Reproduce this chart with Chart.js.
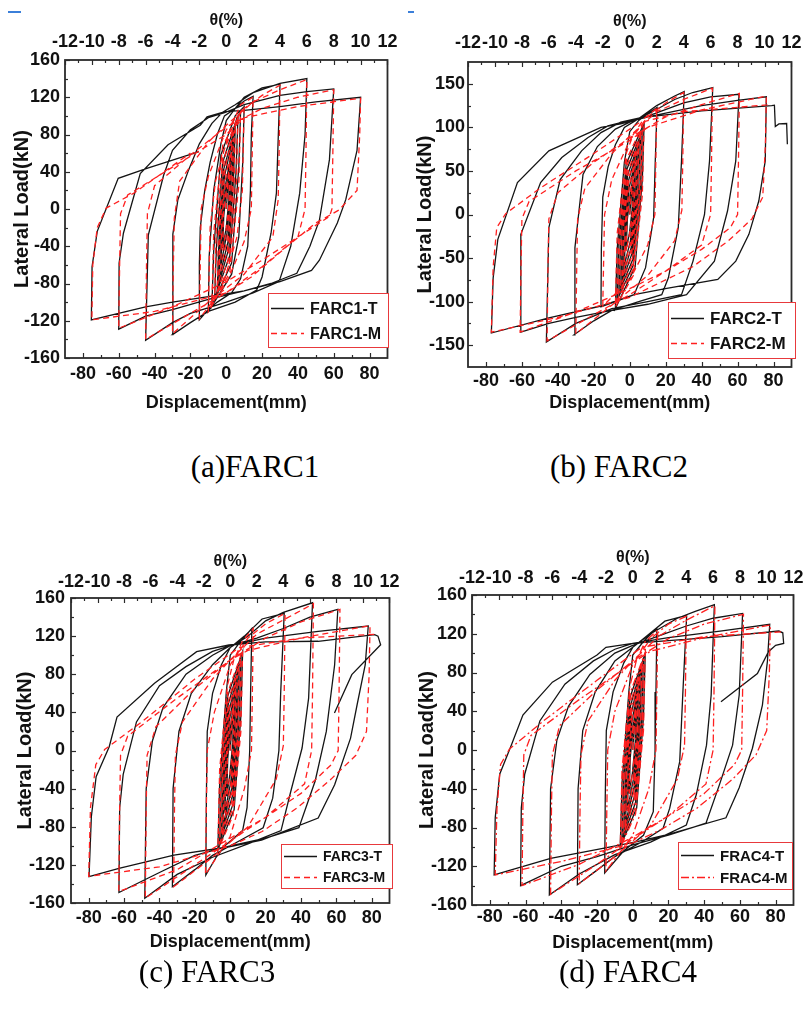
<!DOCTYPE html>
<html>
<head>
<meta charset="utf-8">
<script src="https://cdn.jsdelivr.net/npm/chart.js@4.4.0/dist/chart.umd.min.js"></script>
<style>
  body { margin: 0; background: #fff; width: 810px; height: 1010px; position: relative; overflow: hidden; }
  canvas { position: absolute; }
  .cap { position: absolute; font-family: "Liberation Serif", "Times New Roman", serif; font-size: 31px; line-height: 1;
         transform: translate(-50%, -50%); white-space: nowrap; color: #000; }
  .blue { position: absolute; height: 2px; background: #3b7fd9; }
</style>
</head>
<body>
<div class="blue" style="left:8px;top:11px;width:13px"></div>
<div class="blue" style="left:408px;top:11px;width:6px"></div>
<canvas id="c1" width="405" height="420" style="left:0;top:0"></canvas>
<canvas id="c2" width="405" height="420" style="left:405px;top:0"></canvas>
<canvas id="c3" width="405" height="430" style="left:0;top:530px"></canvas>
<canvas id="c4" width="405" height="430" style="left:405px;top:530px"></canvas>
<div class="cap" style="left:255px;top:466px">(a)FARC1</div>
<div class="cap" style="left:619px;top:466px">(b) FARC2</div>
<div class="cap" style="left:207px;top:971px">(c) FARC3</div>
<div class="cap" style="left:628px;top:971px">(d) FARC4</div>
<script>
// tick labels
const dispTicks = [-80, -60, -40, -20, 0, 20, 40, 60, 80];
const thetaTicks = [-12, -10, -8, -6, -4, -2, 0, 2, 4, 6, 8, 10, 12];
const loadTicks160 = [-160, -120, -80, -40, 0, 40, 80, 120, 160];
const loadTicks150 = [-150, -100, -50, 0, 50, 100, 150];

// series: [displacement mm, lateral load kN]
const farc1T = [
  [0,0],[1,25],[2,42],[1.4,8],[0,-20],[-2,-42],[-1.4,-8],[0,20],
  [2,45],[3,60],[2.2,18],[0.5,-25],[-3,-60],[-2.2,-18],[-0.5,25],
  [3,62],[4,75],[3.2,25],[1,-35],[-4,-75],[-3.2,-25],[-1,35],
  [4,78],[5,86],[4,30],[1.5,-42],[-5,-86],[-4,-30],[-1.5,42],
  [5,88],[6.5,96],[5.4,38],[2,-50],[-6.5,-96],[-5.4,-38],[-2,50],
  [6,98],[8,104],[7,45],[3,-58],[-8,-104],[-7,-45],[-3,58],
  [5,100],[10,110],[9.2,50],[7,-30],[3,-70],[-4,-92],[-10,-110],[-9.5,-50],[-7,20],[-3,70],[0,95],
  [5,108],[10,116],[15,121],[14,80],[13.5,20],[12,-40],[8,-75],[3,-90],[-5,-100],[-10,-108],[-15,-119],[-15,-60],[-14.5,-20],[-12,20],[-9,50],[-5,80],[-1,100],
  [5,108],[10,120],[20,130],[30,134],[28,17],[25,-26],[20,-73],[17,-87],[5,-100],[-10,-110],[-20,-122],[-30,-135],[-29.8,-27],[-27,10],[-21,42],[-15,70],[-8,92],[-2,104],
  [5,112],[15,125],[30,135],[45,140],[44,80],[41,17],[36,-40],[29.5,-78],[15,-90],[0,-100],[-20,-112],[-30,-122],[-45,-141],[-43.5,-28],[-35,36],[-30,63],[-20,85],[-10,98],[0,104],
  [10,112],[30,122],[45,126],[60,129],[57.6,53],[52,-12],[46.7,-40],[39.4,-69],[25,-80],[10,-88],[-10,-97],[-30,-108],[-45,-115],[-60,-129],[-59.8,-58],[-57.4,-26],[-48,38],[-32.5,69],[-14.5,90],[-10.7,99],[-0.7,104.5],
  [10,106],[30,110],[50,115],[75,120],[73,63],[66.7,10],[62,-15],[52,-55],[47.6,-66],[30,-78],[10,-88],[-10,-94],[-30,-100],[-45,-105],[-75.3,-119],[-74.9,-62],[-72,-24],[-60.3,33],[-44.3,43.7],[-15.2,61.5]
];
const farc1M = [
  [0,0],[1,28],[2,45],[1.6,5],[-0.3,-25],[-2,-45],[-1.6,-5],[0.3,25],
  [3,62],[2.5,12],[0.2,-35],[-3,-62],[-2.5,-12],[-0.2,35],
  [4,76],[3.4,15],[0.6,-45],[-4,-76],[-3.4,-15],[-0.6,45],
  [5,88],[4.3,18],[1,-55],[-5,-88],[-4.3,-18],[-1,55],
  [6.5,97],[5.6,22],[1.5,-62],[-6.5,-97],[-5.6,-22],[-1.5,62],
  [8,104],[7,25],[2,-68],[-8,-104],[-7,-25],[-2,68],
  [10,110],[9,20],[6,-30],[-2,-82],[-10,-110],[-9,-20],[-6,30],[2,85],
  [8,112],[15,120],[14.5,60],[14,0],[10,-35],[0,-80],[-15,-118],[-14.5,-60],[-14,0],[-10,35],[0,85],
  [10,108],[20,122],[30,133],[29.5,60],[29,10],[26,-30],[10,-70],[-10,-100],[-30,-134],[-29.5,-60],[-29,-10],[-26,30],[-10,72],[0,90],
  [15,115],[30,128],[45,139],[44.5,60],[44,0],[40,-30],[20,-62],[0,-90],[-20,-112],[-45,-140],[-44.5,-60],[-44,-5],[-40,25],[-20,58],[0,88],
  [20,108],[40,120],[60,128],[59.5,60],[59,0],[57.6,-8],[40,-30],[20,-55],[0,-78],[-30,-105],[-60,-128],[-59.5,-60],[-59,-5],[-55,15],[-30,45],[0,80],
  [10,98],[40,110],[75,119],[74.5,80],[73,20],[63,-1],[50,-15],[34,-40],[14,-73],[0,-90],[-40,-110],[-75,-119],[-74.5,-60],[-72,-20],[-67,1],[-51.6,17],[-20,60]
];

const farc2T = [
  [0,0],[1,25],[2,40],[1.3,5],[-0.2,-22],[-2,-40],[-1.3,-5],[0.2,22],
  [3,58],[2.3,15],[0.4,-30],[-3,-58],[-2.3,-15],[-0.4,30],
  [4,70],[3.2,20],[0.8,-38],[-4,-72],[-3.2,-20],[-0.8,38],
  [5,80],[4,25],[1.2,-45],[-5,-82],[-4,-25],[-1.2,45],
  [6,88],[5,30],[1.6,-52],[-6,-90],[-5,-30],[-1.6,52],
  [7,96],[6,34],[2,-58],[-7,-98],[-6,-34],[-2,58],
  [8,105],[7,40],[3,-60],[-8,-108],[-7,-40],[-3,60],[0,95],
  [5,108],[10,116],[15.2,122.8],[14.2,61.5],[13.3,-3.7],[8.8,-61],[2.4,-92],[-8,-100],[-16,-106],[-15.8,-40],[-15,20],[-12,55],[-8,80],[-3,100],
  [5,110],[15,125],[25,136],[30.3,141],[28.8,61.5],[27,-15],[21.5,-72.7],[17.8,-92],[5,-100],[-10,-110],[-20,-122],[-31,-138],[-30.5,-38],[-26,46],[-18,78],[-8,98],[0,106],
  [10,115],[25,132],[35,140],[46.2,145.7],[44.4,61.5],[41.6,0],[35.2,-53.5],[28.8,-92],[10,-100],[-10,-108],[-30,-125],[-46.4,-146.5],[-45,-15],[-38.7,40],[-26.8,73],[-16,94],[-5,106],
  [10,113],[30,128],[45,135],[60.8,138],[59,61.5],[54.4,4],[47.1,-53.5],[31.6,-92],[10,-103],[-10,-110],[-30,-118],[-45,-125],[-60.6,-135],[-60.6,-22.8],[-49.6,36.6],[-37.8,65.3],[-23.2,88.3],[-12.2,101.7],[0,108],
  [10,112],[40,125],[60,131],[76,135],[75.4,61.5],[71.8,15.5],[66.3,-22.8],[59,-53.5],[49,-74.5],[20.6,-84.7],[2.4,-92],[-16,-105],[-45,-118.6],[-77,-136],[-76,-72.7],[-73.4,-28.5],[-62.5,36.6],[-45,73],[-16,100],[-5,104],[10,112],[40,119],[79,125],[80.5,125.5],[81,101],[83,104],[87.3,104.4],[87.7,80.7]
];
const farc2M = [
  [0,0],[1,26],[2,42],[1.6,4],[-0.3,-24],[-2,-42],[-1.6,-4],[0.3,24],
  [3,60],[2.5,10],[0.2,-34],[-3,-60],[-2.5,-10],[-0.2,34],
  [4,72],[3.4,12],[0.5,-42],[-4,-72],[-3.4,-12],[-0.5,42],
  [5,82],[4.3,15],[0.8,-50],[-5,-82],[-4.3,-15],[-0.8,50],
  [6,90],[5.2,18],[1.2,-58],[-6,-90],[-5.2,-18],[-1.2,58],
  [7,98],[6,20],[1.6,-64],[-7,-98],[-6,-20],[-1.6,64],
  [8,106],[7,22],[2,-70],[-8,-106],[-7,-22],[-2,70],[2,92],
  [8,110],[15,122],[14.5,60],[14,0],[10,-35],[0,-75],[-15,-105],[-14.5,-50],[-14,0],[-10,40],[0,85],
  [10,112],[20,128],[30,140],[29.5,60],[29,5],[25,-30],[10,-70],[-10,-104],[-30,-137],[-29.5,-60],[-29,-5],[-25,30],[-10,70],[0,90],
  [15,118],[30,132],[46,145],[45.5,60],[45,0],[40,-35],[20,-65],[0,-92],[-20,-115],[-46,-145],[-45.5,-60],[-45,-5],[-40,25],[-20,60],[0,88],
  [20,112],[40,126],[61,139],[60.5,60],[60,0],[56,-15],[40,-40],[20,-65],[0,-85],[-30,-112],[-61,-135],[-60.5,-60],[-60,-5],[-56,15],[-30,50],[0,85],
  [10,100],[40,120],[76,136],[75.5,80],[74,20],[68,-5],[55,-30],[35,-60],[15,-80],[0,-95],[-40,-118],[-77,-135],[-76,-60],[-74,-15],[-69,1],[-50,30],[-20,70],[5,105],[30,118],[78,126]
];

const farc3T = [
  [0,0],[1,30],[2,48],[1.4,8],[-0.2,-25],[-2,-48],[-1.4,-8],[0.2,25],
  [3,65],[2.3,18],[0.4,-32],[-3,-65],[-2.3,-18],[-0.4,32],
  [4,78],[3.2,22],[0.8,-40],[-4,-78],[-3.2,-22],[-0.8,40],
  [5,88],[4,28],[1.2,-48],[-5,-88],[-4,-28],[-1.2,48],
  [6,96],[5,32],[1.6,-56],[-6,-96],[-5,-32],[-1.6,56],
  [7,104],[6,36],[2.2,-62],[-7,-104],[-6,-36],[-2.2,62],[0,100],
  [6,115],[12.2,128],[11.5,60],[11,0],[9.5,-60],[7,-84],[-3,-100],[-8,-112],[-13.8,-130.6],[-13.5,-50],[-13,20],[-10,60],[-5,90],[0,108],
  [8,120],[18,138],[30.5,144],[28.5,60],[27.5,0],[24,-50],[18.6,-81],[5,-95],[-10,-110],[-20,-125],[-32.7,-143],[-32.3,-40],[-29,20],[-22,60],[-10,90],[0,108],
  [10,120],[20,136],[30,145],[46.5,155],[44.3,55],[40.6,2.6],[34.2,-43],[28.7,-84],[10,-98],[-10,-112],[-30,-130],[-48.3,-155],[-47.5,-40],[-44,10],[-38,45],[-25,80],[-10,100],[0,110],
  [15,118],[30,128],[45,140],[60.8,148],[59,90],[54.3,20],[48,-32],[38.8,-81],[20,-92],[0,-100],[-20,-110],[-40,-128],[-62.9,-149],[-62.5,-60],[-60.5,-25],[-53,30],[-40,68],[-25,88],[-10,104],[0,110],
  [20,118],[49.7,125],[78,130.6],[76.3,90],[71.7,48],[68,13],[59,-36],[49.7,-70.8],[17.7,-94],[-0.6,-101],[-31.8,-109.7],[-62.9,-123.6],[-79.8,-132.4],[-78.5,-69.5],[-75.8,-27.5],[-68.4,4],[-64,35],[-42.8,70.5],[-19,103.7],[-0.7,110.7],[20,114],[49.7,114.6],[81.6,121.5],[83.5,120],[85,111],[68.7,79.6],[58.9,39.4]
];
const farc3M = [
  [0,0],[1,30],[2,48],[1.6,5],[-0.3,-28],[-2,-48],[-1.6,-5],[0.3,28],
  [3,66],[2.5,10],[0.2,-38],[-3,-66],[-2.5,-10],[-0.2,38],
  [4,79],[3.4,12],[0.5,-46],[-4,-79],[-3.4,-12],[-0.5,46],
  [5,89],[4.3,15],[0.8,-54],[-5,-89],[-4.3,-15],[-0.8,54],
  [6,97],[5.2,18],[1.2,-62],[-6,-97],[-5.2,-18],[-1.2,62],
  [7,105],[6,20],[1.6,-68],[-7,-105],[-6,-20],[-1.6,68],[2,95],
  [7,115],[13,128],[12.5,60],[12,0],[8,-40],[0,-90],[-14,-130],[-13.5,-60],[-13,0],[-9,40],[0,90],
  [10,118],[20,133],[31,144],[30.5,60],[30,5],[26,-30],[10,-80],[-10,-112],[-32,-143],[-31.5,-60],[-31,-5],[-27,30],[-10,75],[0,95],
  [15,122],[30,137],[47,154],[46.5,60],[46,0],[42,-35],[20,-70],[0,-95],[-20,-120],[-48,-155],[-47.5,-60],[-47,-5],[-42,25],[-20,65],[0,95],
  [20,118],[40,135],[62,148],[61.5,60],[61,0],[57,-15],[40,-45],[20,-70],[0,-92],[-30,-125],[-63,-148],[-62.5,-60],[-62,-5],[-58,15],[-30,55],[0,95],
  [10,105],[40,118],[79,131],[78.5,80],[77,20],[71,-5],[57,-30],[38,-60],[18,-85],[0,-100],[-40,-122],[-80,-132],[-79,-60],[-76,-15],[-71,1],[-50,30],[-20,75],[5,108],[40,118],[83,122]
];

const frac4T = [
  [0,0],[1,28],[2,45],[1.4,8],[-0.2,-24],[-2,-45],[-1.4,-8],[0.2,24],
  [3,62],[2.3,16],[0.4,-30],[-3,-62],[-2.3,-16],[-0.4,30],
  [4,75],[3.2,20],[0.8,-38],[-4,-75],[-3.2,-20],[-0.8,38],
  [5,85],[4,26],[1.2,-46],[-5,-85],[-4,-26],[-1.2,46],
  [6,93],[5,30],[1.6,-54],[-6,-93],[-5,-30],[-1.6,54],
  [7,100],[6,34],[2.2,-60],[-7,-100],[-6,-34],[-2.2,60],[0,98],
  [6,112],[13.5,125.6],[13,60],[12.5,0],[11.5,-63.7],[6,-88],[-5,-104],[-15.7,-127],[-15.4,-50],[-14.8,20],[-11,60],[-5,90],[0,106],
  [8,118],[18,133],[30.2,139],[28,56.8],[26.3,-12],[20.7,-60],[17,-80.8],[5,-95],[-10,-110],[-20,-124],[-31,-139],[-30.6,-40],[-28,20],[-21,60],[-10,92],[0,106],
  [10,120],[25,136],[35,143],[45.7,150],[43.9,56.8],[41.3,5],[35.6,-46],[30,-77.4],[10,-95],[-10,-108],[-30,-128],[-46.7,-149.6],[-46,-40],[-42.5,10],[-36,45],[-24,78],[-10,100],[0,108],
  [15,118],[30,128],[45,136],[61.5,141],[59.6,56.8],[55.9,5],[48.5,-36],[41,-75.6],[20,-88],[0,-98],[-20,-110],[-40,-120],[-62.8,-140],[-62.4,-60],[-60.5,-25],[-52,30],[-38,68],[-22,92],[-10,104],[0,110],
  [20,116],[50,123],[76.7,129.7],[75.4,91.6],[72.6,46.4],[67,1.8],[59.6,-39],[52.2,-70],[20,-87],[2.4,-94.6],[-16,-101.4],[-46,-111.8],[-77.6,-129],[-77,-70],[-74.5,-25],[-68,5],[-61.5,36],[-45,70],[-20,98],[-15,106],[0,110],[20,113],[50,117],[81.8,122.8],[84,121],[84.5,110],[80,108],[76,101.5],[69.8,79],[49.4,49.8]
];
const frac4M = [
  [0,0],[1,28],[2,45],[1.6,5],[-0.3,-26],[-2,-45],[-1.6,-5],[0.3,26],
  [3,63],[2.5,10],[0.2,-36],[-3,-63],[-2.5,-10],[-0.2,36],
  [4,76],[3.4,12],[0.5,-44],[-4,-76],[-3.4,-12],[-0.5,44],
  [5,86],[4.3,15],[0.8,-52],[-5,-86],[-4.3,-15],[-0.8,52],
  [6,94],[5.2,18],[1.2,-60],[-6,-94],[-5.2,-18],[-1.2,60],
  [7,101],[6,20],[1.6,-66],[-7,-101],[-6,-20],[-1.6,66],[2,92],
  [7,112],[14,124],[13.5,60],[13,0],[9,-40],[0,-88],[-15,-125],[-14.5,-60],[-14,0],[-10,40],[0,88],
  [10,115],[20,130],[30,138],[29.5,60],[29,5],[25,-30],[10,-78],[-10,-110],[-30,-138],[-29.5,-60],[-29,-5],[-25,30],[-10,72],[0,92],
  [15,118],[30,134],[46,149],[45.5,60],[45,0],[41,-35],[20,-68],[0,-92],[-20,-118],[-46,-149],[-45.5,-60],[-45,-5],[-41,25],[-20,62],[0,92],
  [20,115],[40,130],[62,140],[61.5,60],[61,0],[57,-15],[40,-45],[20,-68],[0,-90],[-30,-118],[-62,-140],[-61.5,-60],[-61,-5],[-57,15],[-30,52],[0,90],
  [10,102],[40,116],[77,129],[76.5,80],[75,20],[69,-5],[56,-30],[36,-60],[16,-82],[0,-96],[-40,-115],[-77,-129],[-76,-60],[-74,-15],[-69,1],[-50,30],[-20,72],[5,106],[40,117],[83,122]
];

// layout of each panel (canvas pixels)
const panels = [
  { id: 'c1', t: farc1T, m: farc1M, names: ['FARC1-T', 'FARC1-M'], yMin: -160, yMax: 160, yTicks: loadTicks160, mDash: [6, 4],
    area: { l: 65, t: 60, r: 394, b: 358 }, pad: { yTick: 5, yTitle: 11, xTick: 5, xTitle: 6, topTick: 7.5, topTitle: 11 },
    legend: { x: 268, y: 293, w: 120, h: 54, font: 16 } },
  { id: 'c2', t: farc2T, m: farc2M, names: ['FARC2-T', 'FARC2-M'], yMin: -175, yMax: 175, yTicks: loadTicks150, mDash: [6, 4],
    area: { l: 63, t: 62, r: 393, b: 367 }, pad: { yTick: 3, yTitle: 9, xTick: 3, xTitle: 6, topTick: 8.5, topTitle: 12 },
    legend: { x: 263, y: 302, w: 127, h: 56, font: 17 } },
  { id: 'c3', t: farc3T, m: farc3M, names: ['FARC3-T', 'FARC3-M'], yMin: -160, yMax: 160, yTicks: loadTicks160, mDash: [6, 4],
    area: { l: 71, t: 68, r: 396, b: 373 }, pad: { yTick: 6, yTitle: 14, xTick: 4, xTitle: 7, topTick: 5.5, topTitle: 22 },
    legend: { x: 281, y: 314, w: 111, h: 44, font: 14 } },
  { id: 'c4', t: frac4T, m: frac4M, names: ['FRAC4-T', 'FRAC4-M'], yMin: -160, yMax: 160, yTicks: loadTicks160, mDash: [8, 3, 2, 3],
    area: { l: 67, t: 65, r: 390, b: 375 }, pad: { yTick: 5, yTitle: 11, xTick: 1, xTitle: 6, topTick: 6.5, topTitle: 18 },
    legend: { x: 273, y: 312, w: 114, h: 47, font: 15 } }
];

const textColor = '#111';
const fam = 'Liberation Sans, Arial, sans-serif';
const axisFont = { family: fam, size: 18, weight: 'bold' };
const yTitleFont = { family: fam, size: 20, weight: 'bold' };

const mids = (vals) => {
  const out = [];
  for (let i = 0; i < vals.length - 1; i++) out.push((vals[i] + vals[i + 1]) / 2);
  return out;
};

// frame box + inward ticks on left, bottom and top
const frameTicks = {
  id: 'frameTicks',
  afterDatasetsDraw(chart) {
    const { ctx, chartArea: a } = chart;
    const sx = chart.scales.x, sy = chart.scales.y, st = chart.scales.x2;
    ctx.save();
    ctx.strokeStyle = '#2b2b2b';
    ctx.lineWidth = 1.2;
    const hTicks = (scale, vals, y0, dir, len) => vals.forEach(v => {
      const p = Math.round(scale.getPixelForValue(v)) + 0.5;
      ctx.beginPath(); ctx.moveTo(p, y0); ctx.lineTo(p, y0 + dir * len); ctx.stroke();
    });
    const yVals = sy.ticks.map(t => t.value);
    yVals.concat(mids(yVals)).forEach((v, i) => {
      const p = Math.round(sy.getPixelForValue(v)) + 0.5;
      const len = i < yVals.length ? 5 : 3;
      ctx.beginPath(); ctx.moveTo(a.left, p); ctx.lineTo(a.left + len, p); ctx.stroke();
    });
    const xVals = sx.ticks.map(t => t.value);
    hTicks(sx, xVals, a.bottom, -1, 5);
    hTicks(sx, mids(xVals), a.bottom, -1, 3);
    const tVals = st.ticks.map(t => t.value);
    hTicks(st, tVals, a.top, 1, 5);
    hTicks(st, mids(tVals), a.top, 1, 3);
    ctx.lineWidth = 1.8;
    ctx.strokeRect(a.left, a.top, a.right - a.left, a.bottom - a.top);
    ctx.restore();
  }
};

// boxed legend inside the plot, bottom right
const boxLegend = {
  id: 'boxLegend',
  afterDraw(chart, args, opts) {
    const { ctx } = chart;
    const L = opts.box;
    ctx.save();
    ctx.fillStyle = '#fff';
    ctx.fillRect(L.x, L.y, L.w, L.h);
    ctx.strokeStyle = '#e8393c';
    ctx.lineWidth = 1;
    ctx.strokeRect(L.x + 0.5, L.y + 0.5, L.w, L.h);
    const rows = [0.28, 0.74];
    chart.data.datasets.forEach((ds, i) => {
      const y = Math.round(L.y + L.h * rows[i]) + 0.5;
      ctx.strokeStyle = ds.borderColor;
      ctx.lineWidth = 1.4;
      ctx.setLineDash(ds.borderDash || []);
      ctx.beginPath(); ctx.moveTo(L.x + 3, y); ctx.lineTo(L.x + 36, y); ctx.stroke();
      ctx.setLineDash([]);
      ctx.fillStyle = textColor;
      ctx.font = 'bold ' + L.font + 'px ' + fam;
      ctx.textBaseline = 'middle';
      ctx.fillText(ds.label, L.x + 42, y + 1);
    });
    ctx.restore();
  }
};

panels.forEach(P => {
  const canvas = document.getElementById(P.id);
  const W = canvas.width, H = canvas.height;
  const noGrid = { display: false, drawTicks: false };
  new Chart(canvas, {
    type: 'scatter',
    data: {
      datasets: [
        { label: P.names[0], data: P.t, showLine: true, borderColor: '#151515', borderWidth: 1.3,
          pointRadius: 0, tension: 0, order: 1, xAxisID: 'x', yAxisID: 'y' },
        { label: P.names[1], data: P.m, showLine: true, borderColor: '#ff1f1f', borderWidth: 1.3,
          borderDash: P.mDash, pointRadius: 0, tension: 0, order: 0, xAxisID: 'x', yAxisID: 'y' }
      ]
    },
    options: {
      responsive: false,
      animation: false,
      devicePixelRatio: 1,
      layout: { padding: { left: 0, top: 0, bottom: 0, right: W - P.area.r } },
      plugins: {
        legend: { display: false },
        tooltip: { enabled: false },
        boxLegend: { box: P.legend }
      },
      scales: {
        x: {
          type: 'linear', position: 'bottom', min: -90, max: 90,
          afterBuildTicks: s => { s.ticks = dispTicks.map(v => ({ value: v })); },
          afterFit: s => { s.height = H - P.area.b; },
          grid: noGrid, border: { display: false },
          ticks: { color: textColor, font: axisFont, padding: P.pad.xTick, maxRotation: 0, autoSkip: false },
          title: { display: true, text: 'Displacement(mm)', color: textColor, font: axisFont, padding: P.pad.xTitle }
        },
        x2: {
          type: 'linear', position: 'top', min: -12, max: 12,
          afterBuildTicks: s => { s.ticks = thetaTicks.map(v => ({ value: v })); },
          afterFit: s => { s.height = P.area.t; },
          grid: noGrid, border: { display: false },
          ticks: { color: textColor, font: axisFont, padding: P.pad.topTick, maxRotation: 0, minRotation: 0, autoSkip: false },
          title: { display: true, text: 'θ(%)', color: textColor, font: { family: fam, size: 16, weight: 'bold' }, padding: P.pad.topTitle }
        },
        y: {
          type: 'linear', position: 'left', min: P.yMin, max: P.yMax,
          afterBuildTicks: s => { s.ticks = P.yTicks.map(v => ({ value: v })); },
          afterFit: s => { s.width = P.area.l; },
          grid: noGrid, border: { display: false },
          ticks: { color: textColor, font: axisFont, padding: P.pad.yTick, autoSkip: false },
          title: { display: true, text: 'Lateral Load(kN)', color: textColor, font: yTitleFont, padding: P.pad.yTitle - 1 }
        }
      }
    },
    plugins: [frameTicks, boxLegend]
  });
});
</script>
</body>
</html>
